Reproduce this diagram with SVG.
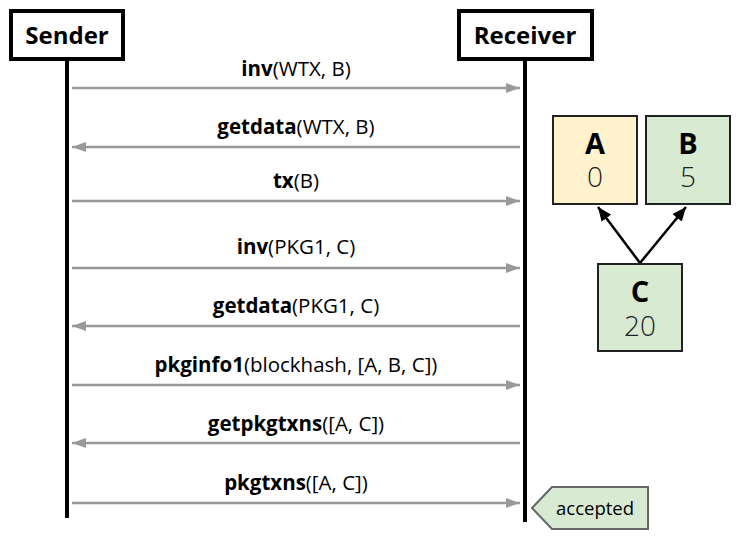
<svg xmlns="http://www.w3.org/2000/svg" width="748" height="540" viewBox="0 0 748 540">
<style>
  text { font-family: "Open Sans", "Liberation Sans", sans-serif; fill: #000; }
  .actor rect { fill: #fff; stroke: #000; stroke-width: 4; }
  .actor text { font-size: 24px; font-weight: bold; text-anchor: middle; }
  .life { stroke: #000; stroke-width: 4; }
  .msg { stroke: #999; stroke-width: 2.5; fill: none; }
  .lbl { font-size: 20.5px; text-anchor: middle; }
  .lbl tspan.b { font-weight: bold; }
  .tx rect { stroke: #222; stroke-width: 2; }
  .tx .n { font-size: 29px; font-weight: bold; text-anchor: middle; }
  .tx .v { font-size: 28px; font-weight: 300; text-anchor: middle; fill: #222; }
  .dep { stroke: #000; stroke-width: 2.5; fill: none; }
</style>
<defs>
  <marker id="ga" viewBox="0 0 14 10" refX="14" refY="5" markerWidth="14" markerHeight="10" markerUnits="userSpaceOnUse" orient="auto">
    <path d="M0,0 L14,5 L0,10 Z" fill="#999"/>
  </marker>
  <marker id="ba" viewBox="0 0 14 12" refX="14" refY="6" markerWidth="14" markerHeight="12" markerUnits="userSpaceOnUse" orient="auto">
    <path d="M0,0 L14,6 L0,12 Z" fill="#000"/>
  </marker>
</defs>
<rect width="748" height="540" fill="#fff"/>

<g id="lifelines">
  <line class="life" x1="67" y1="60" x2="67" y2="518"/>
  <line class="life" x1="525" y1="60" x2="525" y2="522"/>
</g>

<g id="sender" class="actor">
  <rect x="11" y="11" width="112" height="48"/>
  <text x="67" y="44">Sender</text>
</g>
<g id="receiver" class="actor">
  <rect x="459" y="11" width="133" height="48"/>
  <text x="525" y="44">Receiver</text>
</g>

<g id="connectors">
  <line class="msg" x1="72" y1="88" x2="520" y2="88" marker-end="url(#ga)"/>
  <line class="msg" x1="520" y1="147" x2="72" y2="147" marker-end="url(#ga)"/>
  <line class="msg" x1="72" y1="201" x2="520" y2="201" marker-end="url(#ga)"/>
  <line class="msg" x1="72" y1="268" x2="520" y2="268" marker-end="url(#ga)"/>
  <line class="msg" x1="520" y1="326" x2="72" y2="326" marker-end="url(#ga)"/>
  <line class="msg" x1="72" y1="385" x2="520" y2="385" marker-end="url(#ga)"/>
  <line class="msg" x1="520" y1="443" x2="72" y2="443" marker-end="url(#ga)"/>
  <line class="msg" x1="72" y1="503" x2="520" y2="503" marker-end="url(#ga)"/>
  <line class="dep" x1="640" y1="263" x2="598" y2="207" marker-end="url(#ba)"/>
  <line class="dep" x1="640" y1="263" x2="686" y2="207" marker-end="url(#ba)"/>
</g>

<g id="labels">
  <text class="lbl" x="296" y="76"><tspan class="b">inv</tspan>(WTX, B)</text>
  <text class="lbl" x="296" y="134"><tspan class="b">getdata</tspan>(WTX, B)</text>
  <text class="lbl" x="296" y="188"><tspan class="b">tx</tspan>(B)</text>
  <text class="lbl" x="296" y="254"><tspan class="b">inv</tspan>(PKG1, C)</text>
  <text class="lbl" x="296" y="313"><tspan class="b">getdata</tspan>(PKG1, C)</text>
  <text class="lbl" x="296" y="372"><tspan class="b">pkginfo1</tspan>(blockhash, [A, B, C])</text>
  <text class="lbl" x="296" y="431"><tspan class="b">getpkgtxns</tspan>([A, C])</text>
  <text class="lbl" x="296" y="490"><tspan class="b">pkgtxns</tspan>([A, C])</text>
</g>

<g id="txA" class="tx">
  <rect x="553" y="116" width="84" height="88" fill="#fff2cc"/>
  <text class="n" x="595" y="154">A</text>
  <text class="v" x="595" y="187">0</text>
</g>
<g id="txB" class="tx">
  <rect x="646" y="116" width="84" height="88" fill="#d9ead3"/>
  <text class="n" x="688" y="154">B</text>
  <text class="v" x="688" y="187">5</text>
</g>
<g id="txC" class="tx">
  <rect x="598" y="264" width="84" height="87" fill="#d9ead3"/>
  <text class="n" x="640" y="302">C</text>
  <text class="v" x="640" y="336">20</text>
</g>

<g id="accepted">
  <polygon points="532,508 552,487 648,487 648,529 552,529" fill="#d9ead3" stroke="#666" stroke-width="2"/>
  <text x="595" y="515" font-size="18.5" text-anchor="middle" fill="#222">accepted</text>
</g>
</svg>
